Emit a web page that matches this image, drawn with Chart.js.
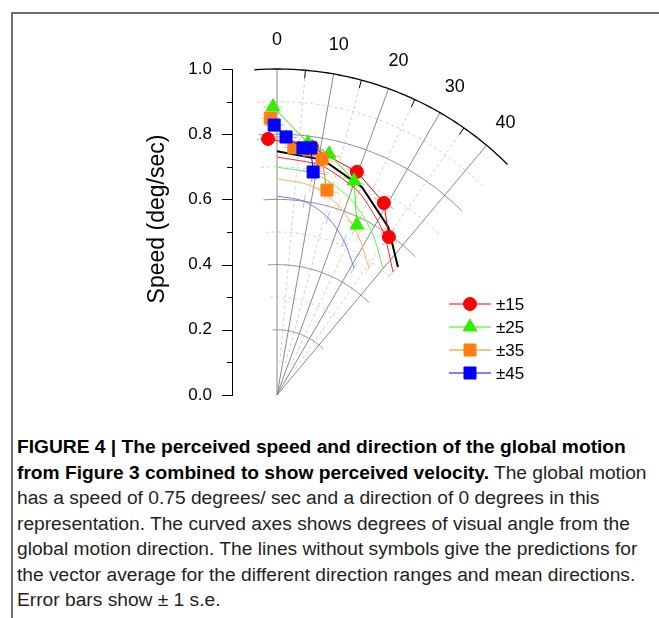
<!DOCTYPE html>
<html>
<head>
<meta charset="utf-8">
<script src="https://cdn.jsdelivr.net/npm/chart.js@4.4.0/dist/chart.umd.min.js"></script>
<style>
  html, body { margin: 0; padding: 0; background: #fff; }
  body { width: 659px; height: 618px; position: relative; overflow: hidden; font-family: "Liberation Sans", Arial, sans-serif; }
  #frame { position: absolute; left: 11px; top: 12px; width: 700px; height: 700px; border-left: 2px solid #707070; border-top: 2px solid #707070; }
  #chart { position: absolute; left: 0; top: 0; }
  #caption { position: absolute; left: 17px; top: 434.25px; font-size: 19.2px; line-height: 25.5px; color: #231f20; white-space: nowrap; }
  #caption div { height: 25.5px; }
  #caption b { color: #000; }
</style>
</head>
<body>
<div id="frame"></div>
<canvas id="chart" width="659" height="426"></canvas>
<div id="caption">
  <div><b>FIGURE 4 | The perceived speed and direction of the global motion</b></div>
  <div><b>from Figure 3 combined to show perceived velocity.</b> The global motion</div>
  <div>has a speed of 0.75 degrees/ sec and a direction of 0 degrees in this</div>
  <div>representation. The curved axes shows degrees of visual angle from the</div>
  <div>global motion direction. The lines without symbols give the predictions for</div>
  <div>the vector average for the different direction ranges and mean directions.</div>
  <div>Error bars show &plusmn; 1 s.e.</div>
</div>
<script>
// angles in degrees from the global motion direction, speeds in deg/sec
const angleTicks = [0, 10, 20, 30, 40];
const speedTicks = [0, 0.1, 0.2, 0.3, 0.4, 0.5, 0.6, 0.7, 0.8, 0.9, 1.0];
const seriesNames = ['±15', '±25', '±35', '±45'];

// measured perceived velocity (symbols)
const redDir = [-2.0, 8.0, 19.7, 29.1, 35.3];
const redSpeed = [0.786, 0.768, 0.727, 0.674, 0.594];
const greenDir = [-0.8, 7.0, 12.2, 19.8, 25.2];
const greenSpeed = [0.884, 0.779, 0.756, 0.698, 0.576];
const orangeDir = [-1.4, 3.9, 7.4, 10.8, 13.7];
const orangeSpeed = [0.850, 0.760, 0.758, 0.737, 0.647];
const blueDir = [-0.6, 2.0, 6.0, 7.8, 9.2];
const blueSpeed = [0.828, 0.792, 0.762, 0.765, 0.693];

// error bars (1 s.e.)
const redDirErr = [2.5, 2.0, 2.5, 3.0, 3.0];
const redSpeedErr = [0.02, 0.02, 0.025, 0.025, 0.03];
const greenDirErr = [2.0, 2.5, 3.0, 3.0, 3.5];
const greenSpeedErr = [0.02, 0.02, 0.025, 0.03, 0.03];
const orangeDirErr = [2.0, 2.5, 3.0, 3.0, 3.5];
const orangeSpeedErr = [0.02, 0.025, 0.025, 0.03, 0.03];
const blueDirErr = [2.0, 2.5, 3.0, 3.0, 3.5];
const blueSpeedErr = [0.02, 0.025, 0.025, 0.03, 0.03];

// vector average predictions (lines without symbols)
const blackDir = [0, 11.1, 22.2, 33.5, 43.4];
const blackSpeed = [0.748, 0.735, 0.689, 0.618, 0.540];
const redPredDir = [0, 11, 22, 33, 43.3];
const redPredSpeed = [0.730, 0.717, 0.671, 0.598, 0.519];
const greenPredDir = [0, 10, 20, 30, 39.9];
const greenPredSpeed = [0.699, 0.687, 0.645, 0.580, 0.507];
const orangePredDir = [0, 9, 18, 27, 35.9];
const orangePredSpeed = [0.663, 0.651, 0.611, 0.548, 0.481];
const bluePredDir = [0, 8, 16, 23.5, 31.2];
const bluePredSpeed = [0.610, 0.600, 0.566, 0.515, 0.456];

const RAD = Math.PI / 180;
function toXY(dirs, speeds) {
    return dirs.map((d, i) => ({ x: speeds[i] * Math.sin(d * RAD), y: speeds[i] * Math.cos(d * RAD) }));
}

const RED = '#ff0000', GREEN = '#33ee00', ORANGE = '#ff8010', BLUE = '#0000ff';

const series = [
    { name: seriesNames[0], color: RED, style: 'circle', radius: 6.5, dir: redDir, speed: redSpeed, dErr: redDirErr, sErr: redSpeedErr, errColor: 'rgba(255,90,90,0.55)' },
    { name: seriesNames[1], color: GREEN, style: 'triangle', radius: 8, dir: greenDir, speed: greenSpeed, dErr: greenDirErr, sErr: greenSpeedErr, errColor: 'rgba(80,220,60,0.55)' },
    { name: seriesNames[2], color: ORANGE, style: 'rect', radius: 8.5, dir: orangeDir, speed: orangeSpeed, dErr: orangeDirErr, sErr: orangeSpeedErr, errColor: 'rgba(255,150,60,0.55)' },
    { name: seriesNames[3], color: BLUE, style: 'rect', radius: 8.5, dir: blueDir, speed: blueSpeed, dErr: blueDirErr, sErr: blueSpeedErr, errColor: 'rgba(90,90,255,0.55)' }
];

const preds = [
    { color: '#000000', width: 2, dir: blackDir, speed: blackSpeed, tension: 0 },
    { color: '#ff2020', width: 1, dir: redPredDir, speed: redPredSpeed, tension: 0.2, tick: 'rgba(255,100,100,0.5)' },
    { color: '#66ee55', width: 1, dir: greenPredDir, speed: greenPredSpeed, tension: 0.3, tick: 'rgba(100,230,90,0.5)' },
    { color: '#ffb060', width: 1, dir: orangePredDir, speed: orangePredSpeed, tension: 0.3, tick: 'rgba(255,170,90,0.5)' },
    { color: '#7777ff', width: 1, dir: bluePredDir, speed: bluePredSpeed, tension: 0.3, tick: 'rgba(120,120,255,0.5)' }
];

const datasets = [];
series.slice().reverse().forEach((s, i) => {
    datasets.push({
        label: s.name,
        data: toXY(s.dir, s.speed),
        showLine: true,
        borderColor: s.color,
        backgroundColor: s.color,
        borderWidth: 1,
        pointStyle: s.style,
        pointRadius: s.radius,
        pointBackgroundColor: s.color,
        pointBorderColor: s.color,
        pointBorderWidth: 1,
        order: i + 1
    });
});
preds.forEach((p, i) => {
    datasets.push({
        label: 'pred' + i,
        data: toXY(p.dir, p.speed),
        showLine: true,
        borderColor: p.color,
        borderWidth: p.width,
        pointRadius: 0,
        tension: p.tension,
        order: i === 0 ? 5 : 6
    });
});

// polar grid, error bars, labels and legend
const polarPlugin = {
    id: 'polarGrid',
    beforeDatasetsDraw(chart) {
        const { ctx, scales: { x, y } } = chart;
        const pt = (d, r) => [x.getPixelForValue(r * Math.sin(d * RAD)), y.getPixelForValue(r * Math.cos(d * RAD))];
        const arc = (r, a0, a1) => {
            ctx.beginPath();
            for (let a = a0; a <= a1 + 0.001; a += 0.5) {
                const p = pt(a, r);
                if (a === a0) ctx.moveTo(p[0], p[1]); else ctx.lineTo(p[0], p[1]);
            }
            ctx.stroke();
        };
        const ray = (a, r0, r1) => {
            const p0 = pt(a, r0), p1 = pt(a, r1);
            ctx.beginPath();
            ctx.moveTo(p0[0], p0[1]);
            ctx.lineTo(p1[0], p1[1]);
            ctx.stroke();
        };
        ctx.save();
        // dashed minor grid
        ctx.strokeStyle = '#cfcfcf';
        ctx.lineWidth = 1;
        ctx.setLineDash([3, 3]);
        [0.3, 0.5, 0.7, 0.9].forEach(r => arc(r, -4, 45));
        [5, 15, 25, 35].forEach(a => ray(a, 0.1, 0.98));
        ctx.setLineDash([]);
        // solid grid
        ctx.strokeStyle = '#8a8a8a';
        [0.2, 0.4, 0.6, 0.8].forEach(r => arc(r, -4, 45));
        angleTicks.forEach(a => ray(a, 0, 1));
        // outer arc
        ctx.strokeStyle = '#000';
        ctx.lineWidth = 1.3;
        arc(1.0, -4, 45);
        ctx.lineWidth = 1;
        [5, 15, 25, 35].forEach(a => ray(a, 0.975, 1));
        // prediction error ticks
        preds.slice(1).forEach(p => {
            ctx.strokeStyle = p.tick;
            p.dir.forEach((d, i) => { if (i > 0) ray(d, p.speed[i] - 0.02, p.speed[i] + 0.02); });
        });
        // error bars on the measured points
        series.forEach(s => {
            ctx.strokeStyle = s.errColor;
            s.dir.forEach((d, i) => {
                const r = s.speed[i];
                ray(d, r - s.sErr[i], r + s.sErr[i]);
                arc(r, d - s.dErr[i], d + s.dErr[i]);
            });
        });
        ctx.restore();
    },
    afterDraw(chart) {
        const { ctx, scales: { x, y } } = chart;
        const pt = (d, r) => [x.getPixelForValue(r * Math.sin(d * RAD)), y.getPixelForValue(r * Math.cos(d * RAD))];
        ctx.save();
        // y ticks
        ctx.strokeStyle = '#000';
        ctx.lineWidth = 1;
        const ax = chart.chartArea.left;
        speedTicks.forEach((v, i) => {
            const py = Math.round(y.getPixelForValue(v)) + 0.5;
            ctx.beginPath();
            ctx.moveTo(ax - (i % 2 === 0 ? 10 : 5), py);
            ctx.lineTo(ax, py);
            ctx.stroke();
        });
        // angle labels
        ctx.fillStyle = '#000';
        ctx.font = '18px "Liberation Sans", Arial, sans-serif';
        ctx.textAlign = 'center';
        ctx.textBaseline = 'middle';
        angleTicks.forEach(a => {
            const p = pt(a, 1.09);
            ctx.fillText(String(a), p[0], p[1]);
        });
        // axis title
        ctx.save();
        ctx.translate(158, 219);
        ctx.rotate(-Math.PI / 2);
        ctx.font = '23px "Liberation Sans", Arial, sans-serif';
        ctx.fillText('Speed (deg/sec)', 0, 0);
        ctx.restore();
        // legend
        ctx.font = '17px "Liberation Sans", Arial, sans-serif';
        ctx.textAlign = 'left';
        series.forEach((s, i) => {
            const ly = 304 + i * 23;
            ctx.strokeStyle = s.color;
            ctx.fillStyle = s.color;
            ctx.lineWidth = 1;
            ctx.beginPath();
            ctx.moveTo(449, ly);
            ctx.lineTo(491, ly);
            ctx.stroke();
            Chart.helpers.drawPoint(ctx, { pointStyle: s.style, radius: s.radius, rotation: 0, borderWidth: 1 }, 470, ly);
            ctx.fillStyle = '#000';
            ctx.fillText(s.name, 496, ly + 1);
        });
        ctx.restore();
    }
};

new Chart(document.getElementById('chart'), {
    type: 'scatter',
    data: { datasets },
    options: {
        responsive: false,
        animation: false,
        events: [],
        layout: { padding: { top: 69, bottom: 31, left: 0, right: 99 } },
        scales: {
            x: { type: 'linear', display: false, min: -45 / 326, max: 283 / 326 },
            y: {
                type: 'linear',
                min: 0,
                max: 1,
                afterFit: s => { s.width = 232; },
                afterBuildTicks: s => { s.ticks = speedTicks.map(v => ({ value: v })); },
                grid: { display: false, drawTicks: false },
                border: { display: true, color: '#000', width: 1 },
                ticks: {
                    padding: 20,
                    color: '#000',
                    font: { size: 17, family: '"Liberation Sans", Arial, sans-serif' },
                    callback: (v) => (Math.round(v * 10) % 2 === 0 ? v.toFixed(1) : '')
                }
            }
        },
        plugins: { legend: { display: false }, tooltip: { enabled: false } }
    },
    plugins: [polarPlugin]
});
</script>
</body>
</html>
